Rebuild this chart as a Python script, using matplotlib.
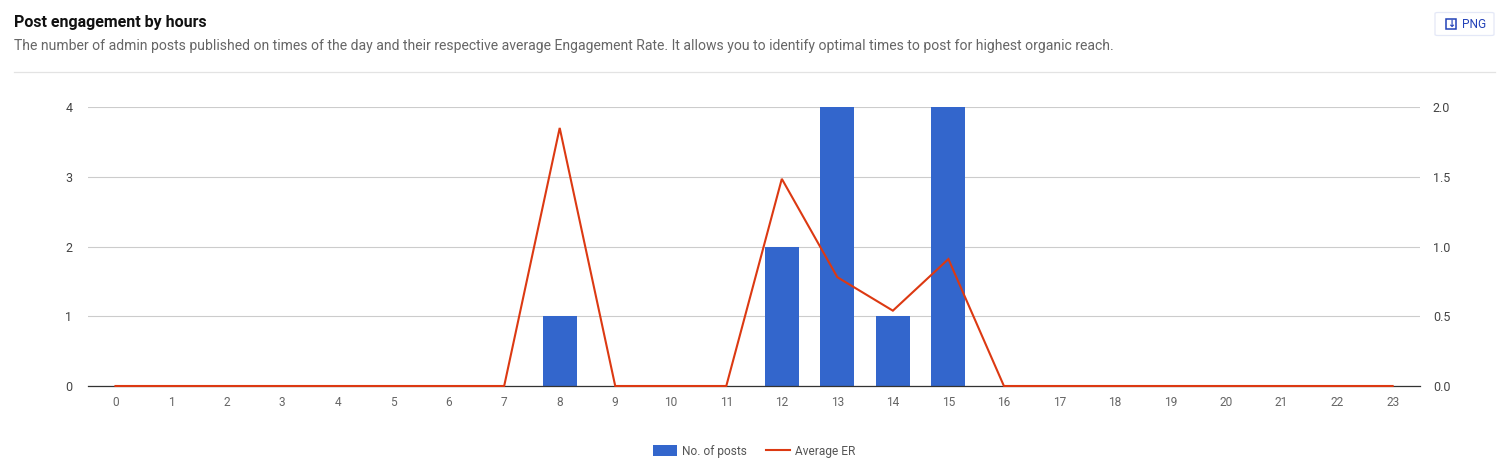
import matplotlib
matplotlib.use("Agg")
import matplotlib.pyplot as plt
from matplotlib.lines import Line2D
from matplotlib.patches import Patch, FancyBboxPatch, Rectangle

hours = list(range(24))
posts = [0,0,0,0,0,0,0,0,1,0,0,0,2,4,1,4,0,0,0,0,0,0,0,0]
avg_er = [0,0,0,0,0,0,0,0,1.85,0,0,0,1.485,0.78,0.54,0.91,0,0,0,0,0,0,0,0]
left_ticks = [0,1,2,3,4]
right_ticks = [0.0,0.5,1.0,1.5,2.0]
title = "Post engagement by hours"
subtitle = ("The number of admin posts published on times of the day and their respective average "
            "Engagement Rate. It allows you to identify optimal times to post for highest organic reach.")

W, H = 1510, 474
plt.rcParams['font.family'] = ['Roboto', 'DejaVu Sans']
fig = plt.figure(figsize=(W/100, H/100), dpi=100, facecolor='white')
ax = fig.add_axes([87.7/W, 1-386/H, (1420.4-87.7)/W, (386-107)/H])
ax.set_xlim(-0.5, 23.5)
ax.set_ylim(0, 4)
ax.bar(hours, posts, width=0.615, color='#3366cc', zorder=2)
ax.set_yticks(left_ticks)
ax.set_xticks(hours)
ax.grid(axis='y', color='#cccccc', lw=0.8, zorder=0)
ax.set_axisbelow(True)
for s in ax.spines.values():
    s.set_visible(False)
ax.axhline(0, color='#333333', lw=0.9, zorder=5, clip_on=False)
ax.tick_params(axis='both', length=0, colors='#444444')
ax.tick_params(axis='y', labelsize=9, pad=11)
ax.tick_params(axis='x', labelsize=8.6, pad=7, labelcolor='#666666')

ax2 = ax.twinx()
ax2.set_ylim(0, 2)
ax2.set_yticks(right_ticks, [f"{t:.1f}" for t in right_ticks])
ax2.plot(hours, avg_er, color='#dc3912', lw=1.5, zorder=3, solid_joinstyle='miter', clip_on=False)
for s in ax2.spines.values():
    s.set_visible(False)
ax2.tick_params(axis='y', length=0, labelsize=9, pad=9, labelcolor='#444444')

fig.text(14/W, 1-22/H, title, fontsize=11.5, fontweight='bold', color='#111111', va='center', ha='left')
fig.text(14/W, 1-46/H, subtitle, fontsize=10.05, color='#666666', va='center', ha='left')
fig.add_artist(Line2D([14/W, 1495/W], [1-72/H]*2, color='#e3e3e3', lw=0.9))

# PNG button
fig.add_artist(FancyBboxPatch((1435/W, 1-35.5/H), 59/W, 23/H, boxstyle="round,pad=0,rounding_size=0.002",
                              transform=fig.transFigure, fc='white', ec='#e4e8f7', lw=0.9))
fig.add_artist(Rectangle((1446/W, 1-29/H), 10/W, 10/H, transform=fig.transFigure,
                         fc='white', ec='#2342b8', lw=1.1))
fig.text(1451/W, 1-24/H, "\u2193", fontsize=7, color='#2342b8', va='center', ha='center',
         family=['DejaVu Sans'], fontweight='bold')
fig.text(1462/W, 1-24/H, "PNG", fontsize=8.6, color='#2342b8', va='center', ha='left')

# Legend
handles = [Patch(fc='#3366cc', ec='none'), Line2D([0],[0], color='#dc3912', lw=1.5)]
leg = fig.legend(handles, ["No. of posts", "Average ER"], loc='center', bbox_to_anchor=(754.5/W, 1-451/H),
                 ncol=2, frameon=False, fontsize=8.6, handlelength=2.0, handleheight=1.0,
                 handletextpad=0.42, columnspacing=1.6, labelcolor='#555555', borderpad=0)
fig.savefig("out.png", dpi=100, facecolor='white')
